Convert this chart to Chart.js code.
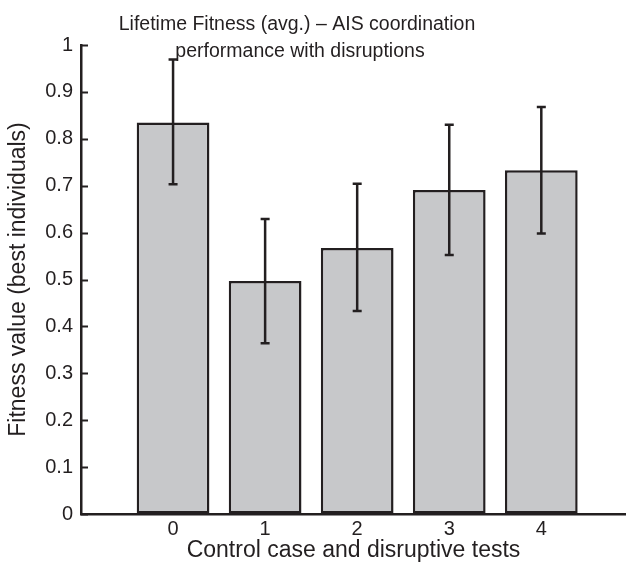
<!DOCTYPE html>
<html>
<head>
<meta charset="utf-8">
<script src="https://cdn.jsdelivr.net/npm/chart.js@4/dist/chart.umd.min.js"></script>
<style>
  html, body { margin: 0; padding: 0; background: #fff; }
  #chart { display: block; }
</style>
</head>
<body>
<canvas id="chart" width="626" height="562"></canvas>
<script>
// data
const categories = [0, 1, 2, 3, 4];
const fitnessMean = [0.835, 0.497, 0.567, 0.691, 0.733];
const errorLower = [0.703, 0.364, 0.433, 0.552, 0.598];
const errorUpper = [0.969, 0.629, 0.704, 0.830, 0.868];
const yTicks = [0, 0.1, 0.2, 0.3, 0.4, 0.5, 0.6, 0.7, 0.8, 0.9, 1];
const yTickLabels = ['0', '0.1', '0.2', '0.3', '0.4', '0.5', '0.6', '0.7', '0.8', '0.9', '1'];
const titleLines = ['Lifetime Fitness (avg.) \u2013 AIS coordination', 'performance with disruptions'];

const ink = '#231f20';
const fontFamily = '"Liberation Sans", Arial, Helvetica, sans-serif';

// error bars drawn on top of the bars, through the y scale
const errorBars = {
    id: 'errorBars',
    afterDatasetsDraw(chart) {
        const ctx = chart.ctx;
        const yScale = chart.scales.y;
        const meta = chart.getDatasetMeta(0);
        ctx.save();
        ctx.strokeStyle = ink;
        ctx.lineWidth = 2.5;
        meta.data.forEach((bar, i) => {
            const x = bar.x;
            const top = yScale.getPixelForValue(errorUpper[i]);
            const bottom = yScale.getPixelForValue(errorLower[i]);
            ctx.beginPath();
            ctx.moveTo(x, top);
            ctx.lineTo(x, bottom);
            ctx.moveTo(x - 4.5, top);
            ctx.lineTo(x + 4.5, top);
            ctx.moveTo(x - 4.5, bottom);
            ctx.lineTo(x + 4.5, bottom);
            ctx.stroke();
        });
        ctx.restore();
    }
};

// tick marks pointing into the plot, like the original
const inwardTicks = {
    id: 'inwardTicks',
    afterDraw(chart) {
        const ctx = chart.ctx;
        const yScale = chart.scales.y;
        const left = chart.chartArea.left;
        ctx.save();
        ctx.strokeStyle = ink;
        ctx.lineWidth = 2;
        yTicks.forEach(v => {
            const y = Math.round(yScale.getPixelForValue(v)) + 0.5;
            ctx.beginPath();
            ctx.moveTo(left, y);
            ctx.lineTo(left + 7, y);
            ctx.stroke();
        });
        ctx.restore();
    }
};

// two-line title, placed a bit left of the plot centre
const plotTitle = {
    id: 'plotTitle',
    afterDraw(chart) {
        const ctx = chart.ctx;
        ctx.save();
        ctx.fillStyle = ink;
        ctx.font = '19.5px ' + fontFamily;
        ctx.textAlign = 'center';
        ctx.textBaseline = 'alphabetic';
        ctx.fillText(titleLines[0], 297, 30);
        ctx.fillText(titleLines[1], 300, 57);
        ctx.restore();
    }
};

const ctx = document.getElementById('chart').getContext('2d');
new Chart(ctx, {
    type: 'bar',
    data: {
        datasets: [{
            data: categories.map((c, i) => ({ x: c, y: fitnessMean[i] })),
            backgroundColor: '#c7c8ca',
            borderColor: ink,
            borderWidth: 2.5,
            borderSkipped: false,
            categoryPercentage: 1,
            barPercentage: 0.79
        }]
    },
    options: {
        responsive: false,
        devicePixelRatio: 1,
        animation: false,
        layout: { padding: { top: 45, right: 0, left: 0, bottom: 0 } },
        plugins: {
            legend: { display: false },
            title: { display: false },
            tooltip: { enabled: false }
        },
        scales: {
            x: {
                type: 'linear',
                offset: false,
                min: -1,
                max: 4.92,
                afterBuildTicks: scale => {
                    scale.ticks = categories.map(v => ({ value: v }));
                },
                afterFit: scale => { scale.height = 48; },
                grid: { display: true, drawOnChartArea: false, drawTicks: false },
                border: { display: true, color: ink, width: 2.5 },
                ticks: {
                    color: ink,
                    padding: 3,
                    font: { family: fontFamily, size: 20 },
                    callback: v => String(v)
                },
                title: {
                    display: true,
                    text: 'Control case and disruptive tests',
                    color: ink,
                    font: { family: fontFamily, size: 23, lineHeight: 1 },
                    padding: { top: 0, bottom: 0 }
                }
            },
            y: {
                min: 0,
                max: 1,
                afterBuildTicks: scale => {
                    scale.ticks = yTicks.map(v => ({ value: v }));
                },
                afterFit: scale => { scale.width = 81; },
                grid: { display: true, drawOnChartArea: false, drawTicks: false },
                border: { display: true, color: ink, width: 2.5 },
                ticks: {
                    color: ink,
                    padding: 8,
                    font: { family: fontFamily, size: 20 },
                    callback: (v, i) => yTickLabels[i]
                },
                title: {
                    display: true,
                    text: 'Fitness value (best individuals)',
                    color: ink,
                    font: { family: fontFamily, size: 23, lineHeight: 1 },
                    padding: { top: 7, bottom: 0 }
                }
            }
        }
    },
    plugins: [errorBars, inwardTicks, plotTitle]
});
</script>
</body>
</html>
